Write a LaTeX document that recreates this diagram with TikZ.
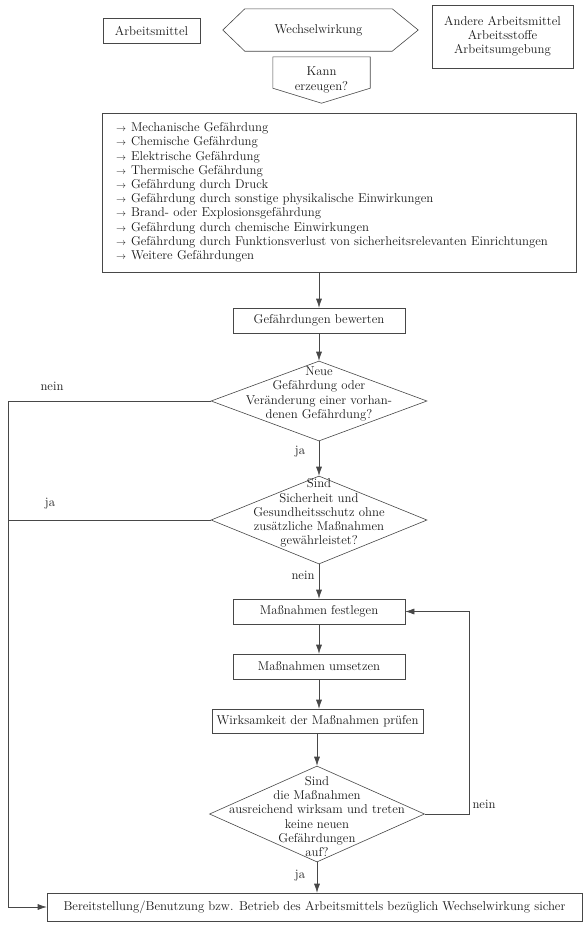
\documentclass[tikz,border=0pt]{standalone}
\usetikzlibrary{arrows.meta,shapes.geometric}
\definecolor{linec}{gray}{0.28}
\definecolor{textc}{gray}{0.1}
\newcommand{\itemarrow}{\makebox[15pt][l]{\fontsize{10}{12}\selectfont$\to$}}
\begin{document}
\begin{tikzpicture}[x=1pt,y=-1pt,
  font=\fontsize{12.8}{14.2}\selectfont, text=textc,
  box/.style={draw=linec, line width=0.6pt, inner sep=0pt, align=center},
  dia/.style={draw=linec, line width=0.6pt, diamond, inner sep=0pt, aspect=2},
  plain/.style={inner sep=0pt, align=center},
  conn/.style={draw=linec, line width=0.6pt},
  arr/.style={conn, -{Latex[length=9pt,width=6pt]}},
  lbl/.style={inner sep=0pt}]
\useasboundingbox (0,0) rectangle (588,927);

% top row
\node[box, minimum width=97, minimum height=25] (am) at (151.5,30.5) {Arbeitsmittel};
\node[plain, minimum width=147, minimum height=42] (ww) at (318.5,30) {Wechselwirkung};
\draw[conn] (ww.north west) -- (ww.north east) -- ([xshift=26pt]ww.east) -- (ww.south east)
  -- (ww.south west) -- ([xshift=-22pt]ww.west) -- cycle;
\node[box, minimum width=141, minimum height=63] (and) at (502.5,36.5)
  {Andere Arbeitsmittel\\Arbeitsstoffe\\Arbeitsumgebung};
\node[plain, minimum width=97, minimum height=46] (kann) at (321.5,80) {Kann\\erzeugen?};
\draw[conn] (kann.north west) -- (kann.north east) -- ([yshift=15pt]kann.south east)
  -- (kann.south) -- ([yshift=15pt]kann.south west) -- cycle;

% list
\node[box, minimum width=474, minimum height=159, text width=446, inner xsep=14pt, align=left] (lst) at (339,192.5)
  {\itemarrow Mechanische Gefährdung\\
   \itemarrow Chemische Gefährdung\\
   \itemarrow Elektrische Gefährdung\\
   \itemarrow Thermische Gefährdung\\
   \itemarrow Gefährdung durch Druck\\
   \itemarrow Gefährdung durch sonstige physikalische Einwirkungen\\
   \itemarrow Brand- oder Explosionsgefährdung\\
   \itemarrow Gefährdung durch chemische Einwirkungen\\
   \itemarrow Gefährdung durch Funktionsverlust von sicherheitsrelevanten Einrichtungen\\
   \itemarrow Weitere Gefährdungen};

% main column
\node[box, minimum width=172, minimum height=25] (gb) at (319,320.5) {Gefährdungen bewerten};
\node[dia, minimum width=216, minimum height=80] (d1) at (319,401) {};
\node[plain] (d1t) at (319,394) {Neue\\Gefährdung oder\\Veränderung einer vorhan-\\denen Gefährdung?};
\node[dia, minimum width=216, minimum height=88] (d2) at (319,520) {};
\node[plain] (d2t) at (319,513) {Sind\\Sicherheit und\\Gesundheitsschutz ohne\\zusätzliche Maßnahmen\\gewährleistet?};
\node[box, minimum width=172, minimum height=25] (fest) at (319,611.5) {Maßnahmen festlegen};
\node[box, minimum width=172, minimum height=25] (ums) at (319,666.5) {Maßnahmen umsetzen};
\node[box, minimum width=211, minimum height=24] (wirk) at (317.5,721) {Wirksamkeit der Maßnahmen prüfen};
\node[dia, minimum width=215, minimum height=96] (d3) at (317,814) {};
\node[plain] (d3t) at (317,816.5) {Sind\\die Maßnahmen\\ausreichend wirksam und treten\\keine neuen\\Gefährdungen\\auf?};
\node[box, minimum width=535, minimum height=28] (fin) at (314.5,907)
  {Bereitstellung/Benutzung bzw. Betrieb des Arbeitsmittels bezüglich Wechselwirkung sicher};

% connectors
\draw[arr] (gb.north |- lst.south) -- (gb.north);
\draw[arr] (gb.south) -- (d1.north);
\draw[arr] (d1.south) -- (d2.north);
\draw[arr] (d2.south) -- (fest.north);
\draw[arr] (fest.south) -- (ums.north);
\draw[arr] (ums.south) -- (ums.south |- wirk.north);
\draw[arr] (d3.north |- wirk.south) -- (d3.north);
\draw[arr] (d3.south) -- (d3.south |- fin.north);

\coordinate (lc) at (8,907);
\draw[arr] (d1.west) -| (lc) -- (fin.west);
\draw[conn] (d2.west) -- (d2.west -| lc);
\coordinate (rc) at (469,611.5);
\draw[arr] (d3.east) -| (rc) -- (fest.east);

% labels
\node[lbl] (l1) at (52,386) {nein};
\node[lbl] (l2) at (50,504) {ja};
\node[lbl] (l3) at (300,452) {ja};
\node[lbl] (l4) at (303,575) {nein};
\node[lbl] (l5) at (484,804) {nein};
\node[lbl] (l6) at (300,876) {ja};
\end{tikzpicture}
\end{document}
